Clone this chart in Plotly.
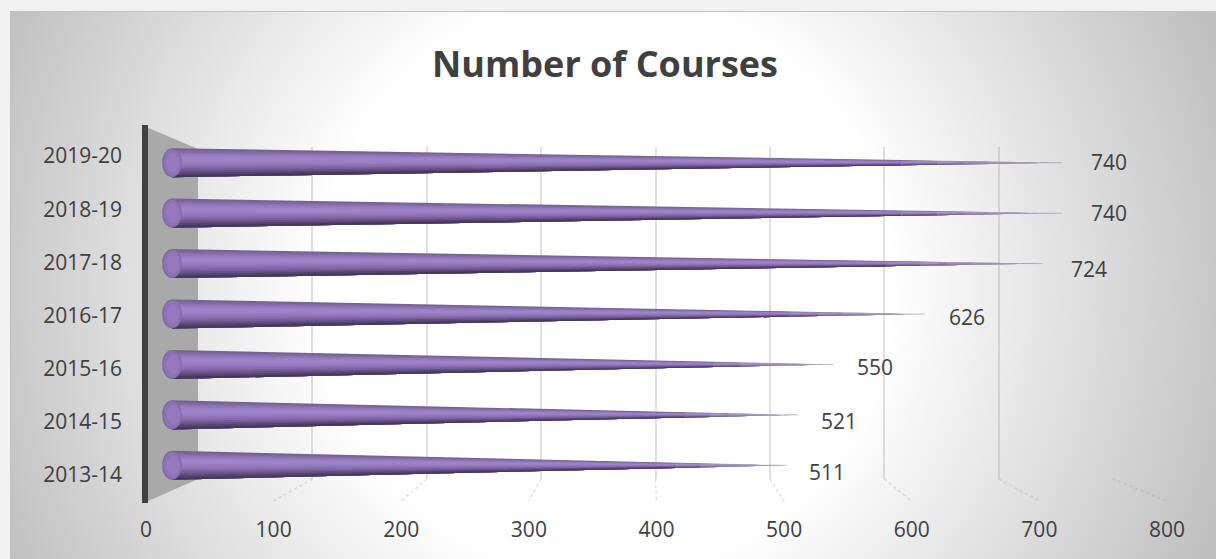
import math
import urllib.parse

import plotly.graph_objects as go

W, H = 1216, 559

YEARS = ["2013-14", "2014-15", "2015-16", "2016-17", "2017-18", "2018-19", "2019-20"]
COURSES = [511, 521, 550, 626, 724, 740, 740]
X_TICKS = [0, 100, 200, 300, 400, 500, 600, 700, 800]
# nudges (px) of the value labels away from the cone tips
LABEL_DX = [40, 40, 42, 42, 46, 47, 47]
LABEL_DY = [7, 6, 3, 3, 5, 0, -1]

FONT = "Open Sans, Noto Sans, sans-serif"
TEXT = "#404040"
GRID = "rgba(165,165,165,0.35)"

# shading across the cone, top edge to bottom edge
BAND_COLORS = [
    (116, 100, 146), (130, 108, 165), (144, 118, 184), (154, 126, 195), (160, 132, 201),
    (158, 130, 199), (152, 124, 192), (144, 116, 184), (134, 106, 172), (120, 95, 156),
    (102, 82, 134), (84, 68, 110), (68, 56, 90),
]
# along the cone: (end fraction, how far it fades to light grey)
SEGMENTS = [
    (0.82, 0.0), (0.86, 0.12), (0.89, 0.28), (0.92, 0.42),
    (0.95, 0.56), (0.975, 0.7), (1.0, 0.82),
]
FADE_TO = (205, 205, 205)
HALF_HEIGHT = 0.288  # in category units
CAP_RX = 8.3  # in course units
CONE_PX_PER_UNIT = 1.2027
CONE_ZERO_PX = 172
CONE_MIN = -20


def px_x(p):
    return p / W


def px_y(p):
    return 1 - p / H


def front_px(v):
    return 146 + v * (1167 - 146) / 800


def back_px(v):
    return 198 + v * (1113 - 198) / 800


def cone_strip(value, idx, t0, t1, f0):
    # one length slice, from fraction f0 down to the bottom edge; upper bands are painted first
    h0 = HALF_HEIGHT * (1 - t0)
    h1 = HALF_HEIGHT * (1 - t1)
    xs = [value * t0, value * t1, value * t1, value * t0, value * t0, None]
    ys = [idx + h0 * f0, idx + h1 * f0, idx - h1, idx - h0, idx + h0 * f0, None]
    return xs, ys


def ellipse(idx, rx, ry, shift=0.0):
    xs, ys = [], []
    for k in range(41):
        a = 2 * math.pi * k / 40
        xs.append(shift + rx * math.cos(a))
        ys.append(idx + ry * math.sin(a))
    return xs + [None], ys + [None]


fig = go.Figure()

# invisible traces so that the front and back axes get drawn
for xa, ya, ys in [("x", "y", list(range(len(YEARS)))), ("x2", "y2", [0.5] * len(COURSES))]:
    fig.add_trace(go.Scatter(
        x=COURSES, y=ys, xaxis=xa, yaxis=ya, mode="markers", marker=dict(opacity=0),
        hoverinfo="skip", showlegend=False,
    ))

n = len(BAND_COLORS)
t0 = 0.0
for t1, fade in SEGMENTS:
    for b, rgb in enumerate(BAND_COLORS):
        f0 = 1 - 2 * b / n
        xs, ys = [], []
        for i, v in enumerate(COURSES):
            a, c = cone_strip(v, i, t0, t1, f0)
            xs += a
            ys += c
        col = [round(ch + (g - ch) * fade) for ch, g in zip(rgb, FADE_TO)]
        fig.add_trace(go.Scatter(
            x=xs, y=ys, xaxis="x3", yaxis="y3", mode="lines", fill="toself",
            line=dict(width=0), fillcolor=f"rgb({col[0]},{col[1]},{col[2]})",
            hoverinfo="skip", showlegend=False,
        ))
    t0 = t1

# faint tail so the very tip stays visible
xs, ys = [], []
for i, v in enumerate(COURSES):
    xs += [v * 0.88, v, None]
    ys += [i, i, None]
fig.add_trace(go.Scatter(
    x=xs, y=ys, xaxis="x3", yaxis="y3", mode="lines",
    line=dict(width=1, color="rgba(125,115,140,0.4)"), hoverinfo="skip", showlegend=False,
))

# cone base caps
for rx, ry, shift, color in [
    (CAP_RX, HALF_HEIGHT, 0.0, "#7f68a4"),
    (CAP_RX * 0.9, HALF_HEIGHT * 0.92, 0.3, "#8d72b5"),
    (CAP_RX * 0.65, HALF_HEIGHT * 0.68, 0.8, "#9579bc"),
]:
    xs, ys = [], []
    for i in range(len(COURSES)):
        a, c = ellipse(i, rx, ry, shift)
        xs += a
        ys += c
    fig.add_trace(go.Scatter(
        x=xs, y=ys, xaxis="x3", yaxis="y3", mode="lines", fill="toself",
        line=dict(width=0), fillcolor=color, hoverinfo="skip", showlegend=False,
    ))

# grey radial background of the chart panel
svg = (
    "<svg xmlns='http://www.w3.org/2000/svg' width='1206' height='548' preserveAspectRatio='none'>"
    "<defs><radialGradient id='g' gradientUnits='userSpaceOnUse' cx='595' cy='274' r='680'>"
    "<stop offset='0' stop-color='#ffffff'/><stop offset='0.42' stop-color='#ffffff'/>"
    "<stop offset='1' stop-color='#bcbcbc'/></radialGradient></defs>"
    "<rect width='1206' height='548' fill='url(#g)'/></svg>"
)
bg_uri = "data:image/svg+xml;charset=utf-8," + urllib.parse.quote(svg)

shapes = [
    # panel edge lines
    dict(type="line", xref="paper", yref="paper", x0=px_x(10), x1=1, y0=px_y(11.5), y1=px_y(11.5),
         line=dict(color="#bfbfbf", width=1)),
    dict(type="line", xref="paper", yref="paper", x0=px_x(10.5), x1=px_x(10.5), y0=px_y(11), y1=0,
         line=dict(color="#bfbfbf", width=1)),
    # side wall
    dict(type="path", xref="paper", yref="paper", layer="below", line=dict(width=0), fillcolor="#a9a9a9",
         path=f"M {px_x(146)} {px_y(127)} L {px_x(198)} {px_y(149)} L {px_x(198)} {px_y(479)} "
              f"L {px_x(146)} {px_y(502)} Z"),
    # thick wall edge
    dict(type="line", xref="paper", yref="paper", layer="below", x0=px_x(145), x1=px_x(145),
         y0=px_y(125), y1=px_y(503), line=dict(color="#404040", width=6)),
]
# floor lines from the back wall to the front edge
for v in X_TICKS[1:]:
    shapes.append(dict(
        type="line", xref="paper", yref="paper", layer="below",
        x0=px_x(back_px(v)), y0=px_y(479), x1=px_x(front_px(v)), y1=px_y(501),
        line=dict(color=GRID, width=1.5, dash="dot"),
    ))

annotations = [
    dict(x=v, y=i, xref="x3", yref="y3", text=str(v), showarrow=False,
         xshift=LABEL_DX[i], yshift=-LABEL_DY[i],
         font=dict(family=FONT, size=21, color=TEXT))
    for i, v in enumerate(COURSES)
]

fig.update_layout(
    width=W, height=H, autosize=False,
    margin=dict(l=0, r=0, t=0, b=0, autoexpand=False),
    paper_bgcolor="#f2f2f2",
    plot_bgcolor="rgba(0,0,0,0)",
    showlegend=False,
    title=dict(
        text="<b>Number of Courses</b>", x=605 / W, y=px_y(64), xanchor="center", yanchor="middle",
        xref="paper", yref="paper", automargin=False, font=dict(family=FONT, size=36, color=TEXT),
    ),
    images=[dict(
        source=bg_uri, xref="paper", yref="paper", x=px_x(10), y=px_y(11), sizex=1 - px_x(10),
        sizey=px_y(11), sizing="stretch", xanchor="left", yanchor="top", layer="below",
    )],
    shapes=shapes,
    annotations=annotations,
    # front plane: tick labels only
    xaxis=dict(
        domain=[px_x(146), px_x(1167)], range=[0, 800], tickvals=X_TICKS, showgrid=False, zeroline=False,
        showline=False, ticks="", anchor="free", position=px_y(515),
        tickfont=dict(family=FONT, size=21, color=TEXT),
    ),
    yaxis=dict(
        domain=[px_y(501.6), px_y(129.4)], range=[-0.5, 6.5], tickmode="array", tickvals=list(range(len(YEARS))),
        ticktext=YEARS, showgrid=False, zeroline=False, showline=False, ticks="",
        anchor="free", position=px_x(122), tickfont=dict(family=FONT, size=21, color=TEXT),
    ),
    # back wall: gridlines
    xaxis2=dict(
        domain=[px_x(198), px_x(1113)], range=[0, 800], tickvals=X_TICKS[1:], showgrid=True,
        gridcolor=GRID, gridwidth=1.5, zeroline=False, showline=False, showticklabels=False,
        ticks="", anchor="y2",
    ),
    yaxis2=dict(
        domain=[px_y(479), px_y(147)], range=[0, 1], showgrid=False, zeroline=False, showline=False,
        showticklabels=False, ticks="", anchor="x2",
    ),
    # plane that holds the cones
    xaxis3=dict(
        domain=[
            px_x(CONE_ZERO_PX + CONE_MIN * CONE_PX_PER_UNIT),
            px_x(CONE_ZERO_PX + 800 * CONE_PX_PER_UNIT),
        ],
        range=[CONE_MIN, 800], visible=False, anchor="y3",
    ),
    yaxis3=dict(
        domain=[px_y(490.5), px_y(137.5)], range=[-0.5, 6.5], visible=False, anchor="x3",
    ),
)

# the page has a default body margin that would push the chart off the window
fig.write_html(
    "out.html",
    config=dict(displayModeBar=False),
    post_script="document.body.style.margin='0';",
)
